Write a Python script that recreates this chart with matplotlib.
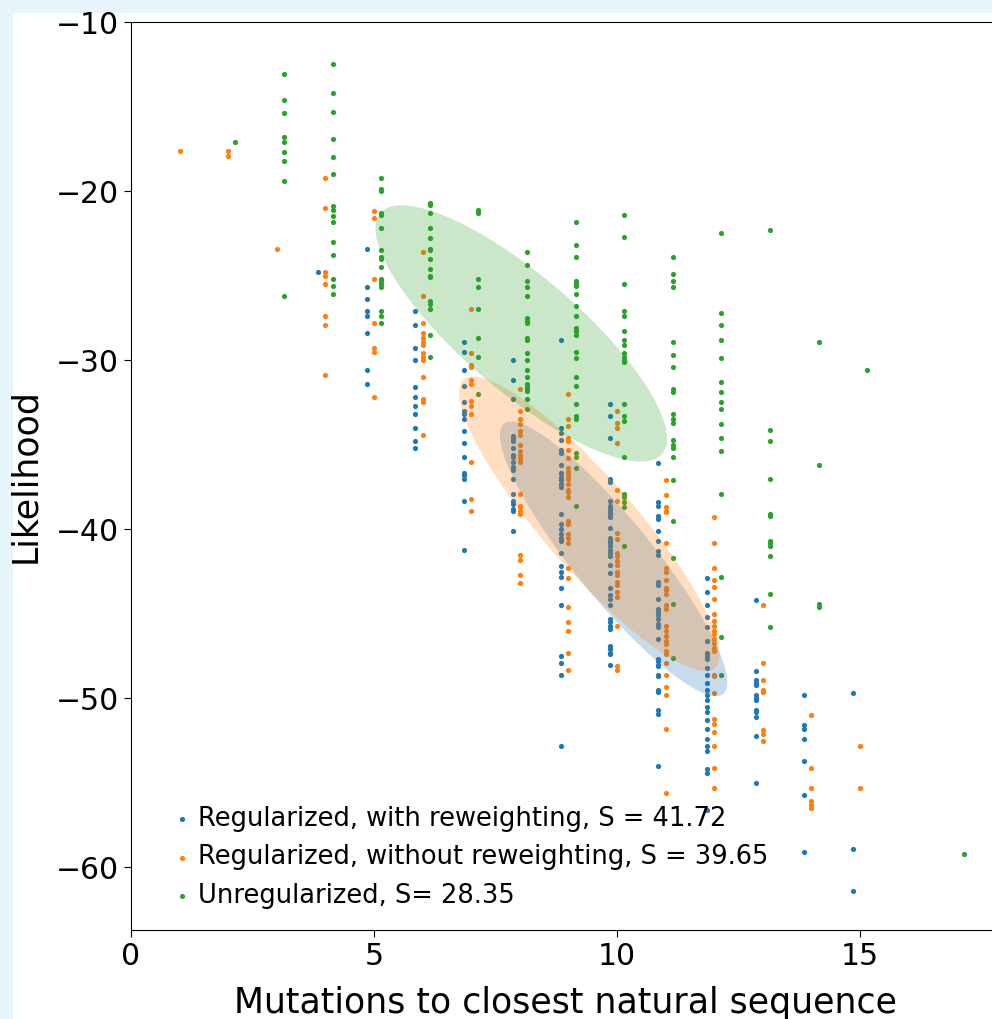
import matplotlib
matplotlib.use('Agg')
import matplotlib.pyplot as plt
import matplotlib.transforms as transforms
from matplotlib.patches import Ellipse, Rectangle
import numpy as np

# Likelihood values per number of mutations to closest natural sequence
reg_reweight = {
    4: [-24.8],
    5: [-23.4, -25.7, -26.4, -27.1, -27.4, -28.4, -30.6, -31.4],
    6: [-27.1, -27.9, -29.3, -30.0, -31.6, -32.2, -32.7, -33.2, -34.0, -34.8, -35.2],
    7: [-28.9, -29.5, -30.6, -31.5, -32.5, -33.0, -33.2, -33.5, -34.2, -34.9, -35.7,
        -36.7, -36.8, -37.0, -38.3, -41.2],
    8: [-30.0, -31.2, -32.3, -34.5, -34.6, -34.8, -35.2, -35.6, -35.7, -36.0, -36.3,
        -36.5, -37.0, -37.9, -38.3, -38.5, -38.8, -38.9, -40.1],
    9: [-28.8, -34.0, -34.3, -34.7, -35.3, -35.5, -36.2, -36.7, -36.9, -37.1, -37.3,
        -37.5, -39.1, -39.7, -40.0, -40.3, -40.5, -40.7, -41.4, -42.2, -42.5, -42.8,
        -43.5, -44.5, -47.5, -47.9, -48.6, -52.8],
    10: [-32.6, -33.3, -34.6, -37.0, -37.2, -38.3, -38.6, -38.8, -39.0, -39.1, -39.3,
         -39.9, -40.5, -40.7, -40.8, -41.0, -41.2, -41.4, -41.6, -42.1, -42.6, -43.5,
         -43.9, -44.1, -44.5, -45.3, -45.5, -45.7, -45.9, -46.9, -47.1, -47.3, -47.4, -48.0],
    11: [-36.1, -38.4, -38.6, -39.2, -39.4, -40.1, -40.7, -41.3, -41.5, -43.1, -43.3,
         -44.1, -44.7, -44.9, -45.1, -45.3, -45.6, -45.8, -46.5, -47.7, -47.8, -48.0,
         -48.1, -48.6, -48.7, -49.5, -49.6, -50.7, -50.9, -54.0],
    12: [-42.9, -43.7, -44.5, -45.2, -45.8, -46.6, -47.3, -47.5, -47.7, -48.2, -48.6,
         -49.1, -49.5, -49.8, -50.1, -50.5, -50.8, -51.3, -51.8, -52.4, -52.8, -53.1,
         -54.2, -54.4, -56.6],
    13: [-44.2, -48.4, -48.9, -49.1, -49.2, -49.8, -50.0, -50.1, -50.7, -50.8, -51.1,
         -52.2, -55.0],
    14: [-49.8, -51.6, -51.8, -52.4, -53.7, -55.7, -59.1],
    15: [-49.7, -58.9, -61.4],
}

reg_no_reweight = {
    1: [-17.6],
    2: [-17.6, -17.9],
    3: [-23.4],
    4: [-19.2, -21.0, -24.8, -25.0, -25.5, -27.4, -27.9, -30.9],
    5: [-21.2, -21.6, -25.2, -27.8, -29.3, -29.5, -32.2],
    6: [-23.6, -26.2, -27.8, -28.4, -28.7, -28.9, -29.1, -29.6, -29.8, -30.0, -31.0,
        -32.3, -32.5, -34.4],
    7: [-27.0, -29.6, -30.3, -30.4, -31.2, -31.4, -32.4, -32.7, -33.2, -36.0, -38.2, -38.9],
    8: [-31.7, -33.0, -33.5, -33.8, -34.2, -34.4, -35.0, -35.4, -35.6, -35.8, -36.0,
        -37.9, -38.6, -38.7, -38.9, -39.1, -41.5, -41.8, -42.7, -43.2],
    9: [-32.0, -33.5, -33.9, -34.6, -34.8, -35.3, -35.8, -36.4, -36.6, -36.8, -37.0,
        -37.3, -37.7, -37.8, -38.1, -39.5, -39.7, -40.3, -40.5, -40.8, -42.3, -42.9,
        -44.6, -45.5, -46.0, -47.3, -48.3],
    10: [-33.0, -33.7, -34.0, -34.9, -37.7, -38.3, -40.2, -40.6, -41.4, -41.6, -41.9,
         -42.1, -42.5, -42.7, -43.1, -43.3, -43.7, -44.0, -45.7, -48.1, -48.3],
    11: [-37.1, -38.0, -38.7, -38.9, -39.0, -40.8, -42.3, -42.5, -43.0, -43.5, -43.6,
         -43.8, -44.5, -44.7, -45.7, -46.0, -46.3, -46.6, -46.8, -47.2, -47.4, -47.9,
         -48.6, -49.3, -49.8, -51.8, -55.6],
    12: [-39.3, -40.8, -42.3, -43.0, -43.4, -44.1, -45.0, -45.4, -45.7, -46.0, -46.2,
         -46.5, -46.7, -47.0, -47.2, -48.6, -48.7, -49.7, -51.2, -51.5, -52.0, -52.8,
         -54.1, -55.3],
    13: [-44.5, -47.9, -48.9, -49.5, -49.6, -51.9, -52.1, -52.5],
    14: [-51.0, -54.1, -55.3, -56.1, -56.3, -56.5],
    15: [-52.8, -55.3],
}

unregularized = {
    2: [-17.1],
    3: [-13.1, -14.6, -15.4, -16.8, -17.1, -17.7, -18.2, -19.4, -26.2],
    4: [-12.5, -14.2, -15.3, -16.9, -18.0, -19.0, -20.9, -21.1, -21.5, -21.8, -23.0,
        -23.8, -25.2, -25.6, -26.1],
    5: [-19.2, -19.9, -20.0, -21.3, -21.4, -22.2, -23.5, -23.9, -24.0, -24.5, -25.2,
        -25.3, -25.5, -25.7, -27.1, -27.4, -27.8],
    6: [-20.7, -20.8, -21.3, -22.2, -22.8, -23.4, -23.5, -24.0, -24.6, -25.0, -25.1,
        -26.5, -26.7, -27.0, -28.5, -29.8],
    7: [-21.1, -21.3, -25.2, -25.7, -27.0, -28.7, -29.8, -32.0],
    8: [-23.6, -24.4, -25.3, -25.7, -26.2, -27.5, -27.7, -27.8, -28.7, -28.8, -29.6,
        -30.0, -30.6, -31.0, -31.4, -31.6, -31.7, -31.8, -32.3, -32.9],
    9: [-21.8, -23.2, -23.9, -25.3, -25.5, -25.6, -26.1, -26.8, -27.4, -28.1, -28.3,
        -28.5, -29.5, -29.9, -31.0, -31.5, -32.6, -33.3, -33.5, -35.5, -35.7, -36.4, -38.6],
    10: [-21.4, -22.7, -25.5, -27.1, -27.4, -28.3, -28.8, -29.1, -29.6, -29.8, -30.0,
         -30.1, -32.6, -33.3, -33.6, -35.7, -37.9, -38.1, -38.4, -38.7, -41.0],
    11: [-23.9, -24.9, -25.3, -25.7, -28.9, -29.7, -30.4, -31.7, -31.9, -33.2, -33.5,
         -33.7, -34.7, -35.0, -35.2, -35.7, -37.1, -39.5, -41.7, -44.4, -47.6],
    12: [-22.5, -27.2, -27.9, -28.8, -29.9, -31.3, -31.9, -32.5, -32.9, -33.8, -34.6,
         -35.4, -37.9, -42.8, -46.4, -48.6],
    13: [-22.3, -34.1, -34.8, -37.0, -39.1, -39.2, -40.7, -40.8, -41.0, -41.6, -43.8, -45.8],
    14: [-28.9, -36.2, -44.4, -44.6],
    15: [-30.6],
    17: [-59.2],
}

labels = ['Regularized, with reweighting, S = 41.72',
          'Regularized, without reweighting, S = 39.65',
          'Unregularized, S= 28.35']

# 1-sigma spread of each group as drawn (mean, std in x / y, correlation)
fit_mean_x = [9.93, 9.43, 8.03]
fit_mean_y = [-41.75, -39.68, -28.42]
fit_std_x = [2.34, 2.68, 3.00]
fit_std_y = [8.12, 8.71, 7.58]
fit_corr = [-0.90, -0.89, -0.82]

colors = ['C0', 'C1', 'C2']
offsets = [-0.15, 0.0, 0.15]


def flatten(groups):
    xs, ys = [], []
    for k, vals in groups.items():
        xs += [k] * len(vals)
        ys += vals
    return np.array(xs, float), np.array(ys)


def spread_ellipse(ax, mx, my, sx, sy, rho, color):
    ell = Ellipse((0, 0), width=2 * np.sqrt(1 + rho), height=2 * np.sqrt(1 - rho),
                  facecolor=color, alpha=0.25, edgecolor='none')
    tr = transforms.Affine2D().rotate_deg(45).scale(sx, sy).translate(mx, my)
    ell.set_transform(tr + ax.transData)
    ax.add_patch(ell)


fig = plt.figure(figsize=(9.92, 10.19), dpi=100)
fig.patch.set_facecolor('#e8f4fb')
fig.patches.append(Rectangle((13 / 992, 0), 1, 1 - 13 / 1019, transform=fig.transFigure,
                             facecolor='white', edgecolor='none', zorder=-1))

ax = fig.add_axes([131 / 992, 89 / 1019, 0.875, 908 / 1019])

for groups, c, off, lab in zip([reg_reweight, reg_no_reweight, unregularized],
                               colors, offsets, labels):
    x, y = flatten(groups)
    ax.scatter(x + off, y, s=14, color=c, linewidths=0, label=lab)

for i in range(3):
    spread_ellipse(ax, fit_mean_x[i], fit_mean_y[i], fit_std_x[i], fit_std_y[i],
                   fit_corr[i], colors[i])

ax.set_xlim(0, 0.875 * 992 / 48.6)
ax.set_ylim(-63.7, -10)
ax.set_xticks([0, 5, 10, 15])
ax.set_yticks([-60, -50, -40, -30, -20, -10])
ax.tick_params(labelsize=21.5, length=5)
ax.spines['right'].set_visible(False)
ax.set_xlabel('Mutations to closest natural sequence', fontsize=25, labelpad=11)
ax.set_ylabel('Likelihood', fontsize=25, labelpad=10)

ax.legend(loc='lower left', frameon=False, fontsize=18.5, handlelength=1.0,
          handletextpad=0.15, labelspacing=0.48, borderaxespad=0.5,
          bbox_to_anchor=(0.017, -0.002))

fig.savefig('out.png', dpi=100, facecolor=fig.get_facecolor())
